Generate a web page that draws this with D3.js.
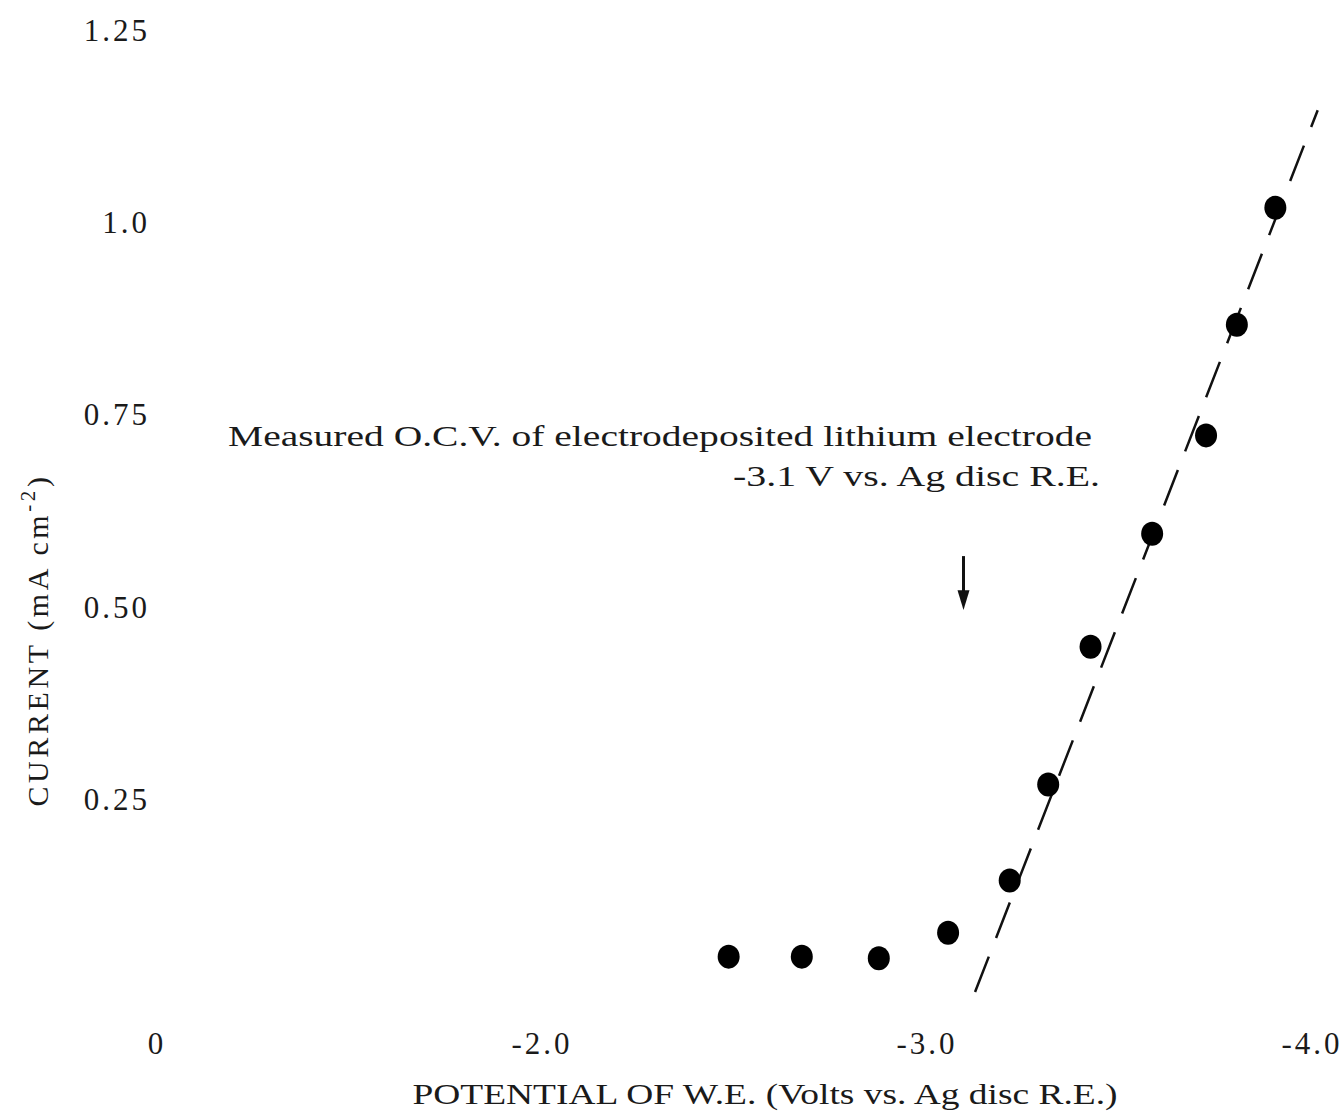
<!DOCTYPE html>
<html>
<head>
<meta charset="utf-8">
<script src="https://cdn.jsdelivr.net/npm/d3@7"></script>
<style>
body { margin: 0; background: #fff; }
text { font-family: "Liberation Serif", "DejaVu Serif", serif; fill: #1a1a1a; }
</style>
</head>
<body>
<script>
var w = 1342, h = 1115;

// measured points (potential V, current mA cm-2)
var potential = [-2.49, -2.68, -2.88, -3.06, -3.22, -3.32, -3.43, -3.59, -3.73, -3.81, -3.91];
var current = [0.046, 0.046, 0.044, 0.077, 0.145, 0.27, 0.449, 0.596, 0.724, 0.868, 1.02];

// dashed fit line ends
var fitX = [-3.13, -4.02];
var fitY = [0.0, 1.147];

// axis ticks (x axis is broken: "0" stands at the -1 position)
var xTicks = [-1, -2, -3, -4];
var xTickLabels = ["0", "-2.0", "-3.0", "-4.0"];
var yTicks = [0.25, 0.5, 0.75, 1.0, 1.25];
var yTickLabels = ["0.25", "0.50", "0.75", "1.0", "1.25"];

var ocv = -3.1;

var svg = d3.select("body")
			.append("svg")
			.attr("width", w)
			.attr("height", h);

var x = d3.scaleLinear().domain([-1, -4]).range([155, 1310]);
var y = d3.scaleLinear().domain([0, 1.25]).range([992, 31]);

// x tick labels, no axis line
svg.selectAll(".xt")
	.data(xTicks)
	.enter()
	.append("text")
	.attr("class", "xt")
	.attr("x", function(d){ return x(d) + 2; })
	.attr("y", 1054)
	.attr("text-anchor", "middle")
	.style("font-size", "31px")
	.style("letter-spacing", "3px")
	.text(function(d, i){ return xTickLabels[i]; });

// y tick labels
svg.selectAll(".yt")
	.data(yTicks)
	.enter()
	.append("text")
	.attr("class", "yt")
	.attr("x", 150)
	.attr("y", function(d){ return y(d) + 10; })
	.attr("text-anchor", "end")
	.style("font-size", "31px")
	.style("letter-spacing", "3px")
	.text(function(d, i){ return yTickLabels[i]; });

// axis titles
svg.append("text")
	.attr("x", 765)
	.attr("y", 1104)
	.attr("text-anchor", "middle")
	.attr("textLength", 705)
	.attr("lengthAdjust", "spacingAndGlyphs")
	.style("font-size", "29px")
	.text("POTENTIAL OF W.E. (Volts vs. Ag disc R.E.)");

var yt = svg.append("text")
	.attr("transform", "translate(48,640) rotate(-90)")
	.attr("text-anchor", "middle")
	.style("font-size", "30px")
	.style("letter-spacing", "3.6px");
yt.append("tspan").text("CURRENT (mA cm");
yt.append("tspan").attr("dy", -13).style("font-size", "21px").text("-2");
yt.append("tspan").attr("dy", 13).text(")");

// annotation
svg.append("text")
	.attr("x", 1092)
	.attr("y", 446)
	.attr("text-anchor", "end")
	.attr("textLength", 864)
	.attr("lengthAdjust", "spacingAndGlyphs")
	.style("font-size", "29px")
	.text("Measured O.C.V. of electrodeposited lithium electrode");
svg.append("text")
	.attr("x", 1100)
	.attr("y", 486)
	.attr("text-anchor", "end")
	.attr("textLength", 367)
	.attr("lengthAdjust", "spacingAndGlyphs")
	.style("font-size", "29px")
	.text("-3.1 V vs. Ag disc R.E.");

// arrow pointing at the O.C.V.
svg.append("line")
	.attr("x1", x(ocv)).attr("x2", x(ocv))
	.attr("y1", y(0.567)).attr("y2", y(0.505))
	.attr("stroke", "#111")
	.attr("stroke-width", 3);
svg.append("path")
	.attr("d", "M" + (x(ocv) - 6) + "," + (y(0.507) - 12) + " L" + (x(ocv) + 6) + "," + (y(0.507) - 12) + " L" + x(ocv) + "," + y(0.497) + " Z")
	.attr("fill", "#111");

// dashed fit line
svg.append("line")
	.attr("x1", x(fitX[0])).attr("y1", y(fitY[0]))
	.attr("x2", x(fitX[1])).attr("y2", y(fitY[1]))
	.attr("stroke", "#111")
	.attr("stroke-width", 2.5)
	.attr("stroke-dasharray", "38,20");

// points
svg.selectAll(".pt")
	.data(potential)
	.enter()
	.append("ellipse")
	.attr("class", "pt")
	.attr("cx", function(d){ return x(d); })
	.attr("cy", function(d, i){ return y(current[i]); })
	.attr("rx", 11)
	.attr("ry", 12)
	.attr("fill", "#000");
</script>
</body>
</html>
